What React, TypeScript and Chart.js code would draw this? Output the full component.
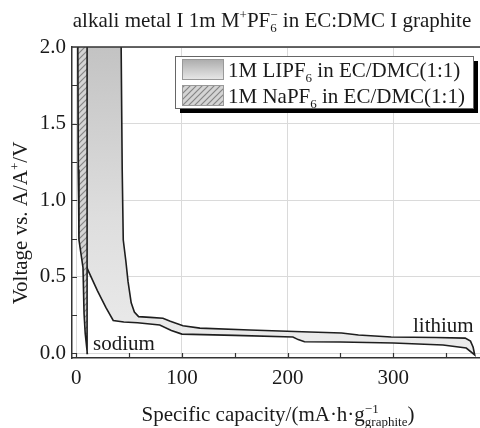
import React, { useEffect, useRef } from 'react';
import { Chart, registerables } from 'chart.js';

Chart.register(...registerables);

const FONT = "'Liberation Serif', 'Times New Roman', serif";

// Lithium loop: discharge (lower branch) then charge (upper branch)
const liDischargeCap = [2.0, 2.0, 2.3, 2.8, 4.5, 11, 20, 28, 35, 45, 58, 79, 90, 100, 150, 205, 210, 216, 250, 300, 347, 369, 377];
const liDischargeV = [2.1, 2.0, 1.2, 0.76, 0.68, 0.545, 0.41, 0.3, 0.215, 0.205, 0.2, 0.185, 0.15, 0.126, 0.118, 0.107, 0.09, 0.076, 0.074, 0.068, 0.055, 0.035, -0.01];
const liChargeCap = [377, 375.5, 373, 368, 340, 298, 267, 251, 221, 164, 117, 101, 89, 82, 70, 59, 55, 52, 49, 47, 44.5, 43.5, 42.5, 42.5];
const liChargeV = [-0.01, 0.04, 0.08, 0.1, 0.104, 0.107, 0.12, 0.133, 0.14, 0.153, 0.165, 0.18, 0.21, 0.23, 0.235, 0.24, 0.27, 0.33, 0.47, 0.6, 0.74, 1.2, 2.0, 2.1];

// Sodium loop
const naDischargeCap = [1.5, 1.5, 2.0, 2.6, 6.4, 7.4, 8.5, 10.5];
const naDischargeV = [2.1, 2.0, 1.2, 0.74, 0.56, 0.26, 0.13, 0.0];
const naChargeCap = [10.5, 10.3, 10.2, 10.2, 10.2];
const naChargeV = [0.0, 0.1, 0.5, 2.0, 2.1];

const xMinorTicks = [0, 50, 100, 150, 200, 250, 300, 350];
const yMinorTicks = [0, 0.25, 0.5, 0.75, 1.0, 1.25, 1.5, 1.75];

const legendLabels = [
  [{ t: '1M LIPF' }, { sub: '6' }, { t: ' in EC/DMC(1:1)' }],
  [{ t: '1M NaPF' }, { sub: '6' }, { t: ' in EC/DMC(1:1)' }],
];
const titleParts = [{ t: 'alkali metal I 1m M' }, { sup: '+' }, { t: 'PF' }, { sub: '6', sup: '\u2212' }, { t: ' in EC:DMC I graphite' }];
const xTitleParts = [{ t: 'Specific capacity/(mA\u00b7h\u00b7g' }, { sub: 'graphite', sup: '\u22121' }, { t: ')' }];
const yTitleParts = [{ t: 'Voltage vs. A/A' }, { sup: '+' }, { t: '/V' }];

type Part = { t?: string; sub?: string; sup?: string };

function toPoints(xs: number[], ys: number[]) {
  return xs.map((x, i) => ({ x, y: ys[i] }));
}

function richWidth(ctx: CanvasRenderingContext2D, parts: Part[], size: number) {
  let w = 0;
  const small = Math.round(size * 0.64);
  for (const p of parts) {
    if (p.t !== undefined) {
      ctx.font = `${size}px ${FONT}`;
      w += ctx.measureText(p.t).width;
    } else {
      ctx.font = `${small}px ${FONT}`;
      w += Math.max(p.sub ? ctx.measureText(p.sub).width : 0, p.sup ? ctx.measureText(p.sup).width : 0);
    }
  }
  return w;
}

function drawRich(ctx: CanvasRenderingContext2D, parts: Part[], x: number, y: number, size: number, align: 'left' | 'center') {
  const small = Math.round(size * 0.64);
  let cx = align === 'center' ? x - richWidth(ctx, parts, size) / 2 : x;
  ctx.textAlign = 'left';
  ctx.textBaseline = 'alphabetic';
  for (const p of parts) {
    if (p.t !== undefined) {
      ctx.font = `${size}px ${FONT}`;
      ctx.fillText(p.t, cx, y);
      cx += ctx.measureText(p.t).width;
    } else {
      ctx.font = `${small}px ${FONT}`;
      let w = 0;
      if (p.sup) {
        ctx.fillText(p.sup, cx, y - size * 0.4);
        w = Math.max(w, ctx.measureText(p.sup).width);
      }
      if (p.sub) {
        ctx.fillText(p.sub, cx, y + size * 0.22);
        w = Math.max(w, ctx.measureText(p.sub).width);
      }
      cx += w;
    }
  }
}

export default function App() {
  const ref = useRef<HTMLCanvasElement>(null);

  useEffect(() => {
    const canvas = ref.current!;
    const c2d = canvas.getContext('2d')!;

    const pc = document.createElement('canvas');
    pc.width = 6;
    pc.height = 6;
    const p = pc.getContext('2d')!;
    p.fillStyle = '#d4d4d4';
    p.fillRect(0, 0, 6, 6);
    p.strokeStyle = '#858585';
    p.lineWidth = 1.2;
    p.beginPath();
    p.moveTo(0, 6); p.lineTo(6, 0);
    p.moveTo(-3, 3); p.lineTo(3, -3);
    p.moveTo(3, 9); p.lineTo(9, 3);
    p.stroke();
    const hatch = c2d.createPattern(pc, 'repeat')!;

    const liGradient = (context: any) => {
      const chart = context.chart;
      const a = chart.chartArea;
      if (!a) return '#dddddd';
      const g = chart.ctx.createLinearGradient(0, a.top, 0, a.bottom);
      g.addColorStop(0, '#c3c3c3');
      g.addColorStop(0.55, '#dedede');
      g.addColorStop(1, '#ececec');
      return g;
    };

    const decor = {
      id: 'decor',
      afterDatasetsDraw(chart: any) {
        const ctx = chart.ctx as CanvasRenderingContext2D;
        const a = chart.chartArea;
        const xs = chart.scales.x;
        const ys = chart.scales.y;
        ctx.save();
        ctx.strokeStyle = '#333';
        ctx.lineWidth = 1.2;
        ctx.beginPath();
        for (const v of xMinorTicks) {
          const px = Math.round(xs.getPixelForValue(v)) + 0.5;
          ctx.moveTo(px, a.bottom);
          ctx.lineTo(px, a.bottom - 5);
        }
        for (const v of yMinorTicks) {
          const py = Math.round(ys.getPixelForValue(v)) + 0.5;
          ctx.moveTo(a.left, py);
          ctx.lineTo(a.left + 5, py);
        }
        ctx.stroke();
        ctx.lineWidth = 1.5;
        ctx.beginPath();
        ctx.moveTo(a.left, a.top);
        ctx.lineTo(a.right, a.top);
        ctx.stroke();
        ctx.restore();
      },
      afterDraw(chart: any) {
        const ctx = chart.ctx as CanvasRenderingContext2D;
        ctx.save();
        ctx.fillStyle = '#1a1a1a';
        drawRich(ctx, titleParts, 272, 27, 21, 'center');
        drawRich(ctx, xTitleParts, 278, 421, 21, 'center');
        ctx.save();
        ctx.translate(27, 223);
        ctx.rotate(-Math.PI / 2);
        drawRich(ctx, yTitleParts, 0, 0, 21, 'center');
        ctx.restore();
        ctx.font = `21px ${FONT}`;
        ctx.fillText('sodium', 93, 350);
        ctx.fillText('lithium', 413, 332);

        // legend
        const lx = 175, ly = 56, lw = 298, lh = 52;
        ctx.fillStyle = '#000';
        ctx.fillRect(lx + 5, ly + 5, lw, lh);
        ctx.fillStyle = '#fff';
        ctx.fillRect(lx, ly, lw, lh);
        ctx.strokeStyle = '#666';
        ctx.lineWidth = 1;
        ctx.strokeRect(lx + 0.5, ly + 0.5, lw, lh);
        const g = ctx.createLinearGradient(0, 59, 0, 79);
        g.addColorStop(0, '#ababab');
        g.addColorStop(1, '#e6e6e6');
        ctx.fillStyle = g;
        ctx.fillRect(182, 59, 41, 20);
        ctx.strokeStyle = '#999';
        ctx.strokeRect(182.5, 59.5, 41, 20);
        ctx.fillStyle = hatch;
        ctx.fillRect(182, 85, 41, 20);
        ctx.strokeRect(182.5, 85.5, 41, 20);
        ctx.fillStyle = '#1a1a1a';
        drawRich(ctx, legendLabels[0], 228, 77, 21, 'left');
        drawRich(ctx, legendLabels[1], 228, 103, 21, 'left');
        ctx.restore();
      },
    };

    const chart = new Chart(canvas, {
      type: 'scatter',
      data: {
        datasets: [
          {
            label: '1M NaPF6 in EC/DMC(1:1)',
            data: [...toPoints(naDischargeCap, naDischargeV), ...toPoints(naChargeCap, naChargeV)],
            showLine: true,
            fill: 'shape',
            backgroundColor: hatch as any,
            borderColor: '#1e1e1e',
            borderWidth: 1.6,
            pointRadius: 0,
            tension: 0,
            clip: 0,
          } as any,
          {
            label: '1M LIPF6 in EC/DMC(1:1)',
            data: [...toPoints(liDischargeCap, liDischargeV), ...toPoints(liChargeCap, liChargeV)],
            showLine: true,
            fill: 'shape',
            backgroundColor: liGradient,
            borderColor: '#1e1e1e',
            borderWidth: 1.6,
            pointRadius: 0,
            tension: 0,
            clip: 0,
          } as any,
        ],
      },
      options: {
        responsive: false,
        animation: false,
        events: [],
        layout: { padding: { top: 47, left: 0, right: 0, bottom: 0 } },
        plugins: {
          legend: { display: false },
          tooltip: { enabled: false },
          title: { display: false },
        },
        scales: {
          x: {
            type: 'linear',
            min: -4,
            max: 382,
            afterFit: (s: any) => { s.height = 70; },
            ticks: {
              stepSize: 100,
              includeBounds: false,
              padding: 8,
              color: '#1a1a1a',
              font: { family: FONT, size: 21 },
              callback: (v: any) => String(v),
            },
            grid: { color: '#dadada', lineWidth: 1, drawTicks: false },
            border: { color: '#333', width: 1.5 },
          },
          y: {
            type: 'linear',
            min: -0.03,
            max: 2.0,
            afterFit: (s: any) => { s.width = 72; },
            ticks: {
              stepSize: 0.5,
              includeBounds: false,
              padding: 6,
              color: '#1a1a1a',
              font: { family: FONT, size: 21 },
              callback: (v: any) => Number(v).toFixed(1),
            },
            grid: { color: '#dadada', lineWidth: 1, drawTicks: false },
            border: { color: '#333', width: 1.5 },
          },
        },
      } as any,
      plugins: [decor],
    });

    return () => chart.destroy();
  }, []);

  return (
    <div style={{ position: 'absolute', left: 0, top: 0, width: 480, height: 428, background: '#fff' }}>
      <canvas ref={ref} width={480} height={428} style={{ display: 'block', width: 480, height: 428 }} />
    </div>
  );
}
